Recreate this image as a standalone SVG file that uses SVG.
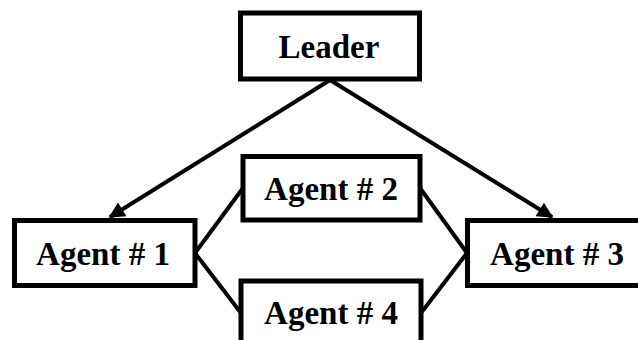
<svg xmlns="http://www.w3.org/2000/svg" width="638" height="340" viewBox="0 0 638 340">
  <style>
    .box { fill: #ffffff; stroke: #000000; stroke-width: 5; }
    .label { font-family: "Liberation Serif", "Times New Roman", serif; font-weight: bold; font-size: 33px; fill: #000000; text-anchor: middle; }
    .link { fill: none; stroke: #000000; stroke-width: 4; }
  </style>
  <defs>
    <marker id="arrow" viewBox="0 0 10 10" refX="9" refY="5" markerWidth="4.5" markerHeight="4" markerUnits="strokeWidth" orient="auto">
      <path d="M0,0 L10,5 L0,10 Z" fill="#000000"/>
    </marker>
  </defs>
  <rect width="638" height="340" fill="#ffffff"/>

  <g id="connectors">
    <line class="link" x1="330" y1="80" x2="110" y2="217" marker-end="url(#arrow)"/>
    <line class="link" x1="330" y1="80" x2="552" y2="217" marker-end="url(#arrow)"/>
    <line class="link" x1="195" y1="253" x2="243" y2="188"/>
    <line class="link" x1="195" y1="253" x2="241" y2="313"/>
    <line class="link" x1="467" y1="253" x2="420" y2="188"/>
    <line class="link" x1="467" y1="253" x2="421" y2="313"/>
  </g>

  <g id="leader">
    <rect class="box" x="240.5" y="13" width="179" height="66"/>
    <text class="label" x="329" y="58">Leader</text>
  </g>
  <g id="agent1">
    <rect class="box" x="14.5" y="220.5" width="180.5" height="65"/>
    <text class="label" x="103" y="265">Agent # 1</text>
  </g>
  <g id="agent2">
    <rect class="box" x="243" y="156.5" width="177" height="63.5"/>
    <text class="label" x="331" y="200">Agent # 2</text>
  </g>
  <g id="agent3">
    <rect class="box" x="467.5" y="220.5" width="175" height="65"/>
    <text class="label" x="557" y="265">Agent # 3</text>
  </g>
  <g id="agent4">
    <rect class="box" x="241" y="281" width="180" height="64"/>
    <text class="label" x="331" y="324">Agent # 4</text>
  </g>
</svg>
